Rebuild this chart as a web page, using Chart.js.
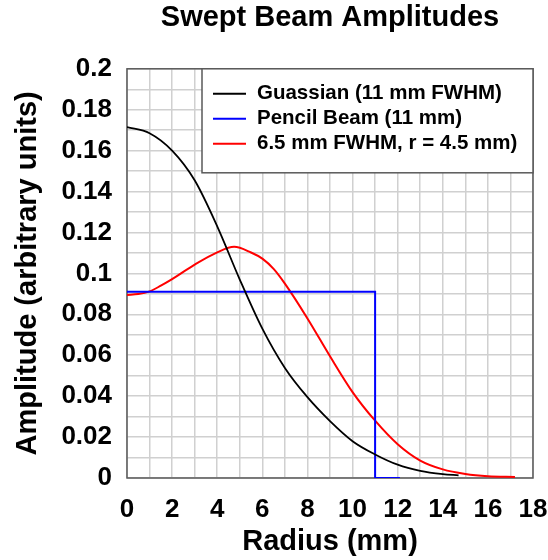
<!DOCTYPE html>
<html>
<head>
<meta charset="utf-8">
<title>Swept Beam Amplitudes</title>
<script src="https://cdn.jsdelivr.net/npm/chart.js@4.4.0/dist/chart.umd.min.js"></script>
<style>
    html, body { margin: 0; padding: 0; background: #ffffff; }
    #wrap { width: 548px; height: 560px; }
</style>
</head>
<body>
<div id="wrap"><canvas id="beam-chart" width="548" height="560"></canvas></div>
<script>
// ===== Swept Beam Amplitudes =====

const chartTitle = 'Swept Beam Amplitudes';
const xAxisTitle = 'Radius (mm)';
const yAxisTitle = 'Amplitude (arbitrary units)';

const seriesNames = ['Guassian (11 mm FWHM)', 'Pencil Beam (11 mm)', '6.5 mm FWHM, r = 4.5 mm)'];
const seriesColors = ['#000000', '#0000ff', '#ff0000'];

// Gaussiano 11 mm FWHM
const gaussRadius = [0, 1, 2, 3, 4, 5, 6, 7, 8, 9, 10, 11, 12, 13, 14, 14.7];
const gaussAmp = [0.1715, 0.1685, 0.1600, 0.1455, 0.1230, 0.0970, 0.0730, 0.0538, 0.0395, 0.0278, 0.0180, 0.0115, 0.0065, 0.0035, 0.0019, 0.0013];

// Pencil beam 11 mm
const pencilRadius = [0, 11, 11, 12.1];
const pencilAmp = [0.091, 0.091, 0, 0];

// 6.5 mm FWHM varrido em r = 4.5 mm
const sweptRadius = [0, 0.5, 1, 1.5, 2, 3, 4, 4.75, 5.5, 6, 6.5, 7, 8, 9, 10, 11, 12, 13, 14, 15, 16, 17.2];
const sweptAmp = [0.0895, 0.0899, 0.0912, 0.0940, 0.0972, 0.1043, 0.1103, 0.1130, 0.1102, 0.1072, 0.1022, 0.0950, 0.0780, 0.0595, 0.0420, 0.0280, 0.0165, 0.0085, 0.0042, 0.0020, 0.0009, 0.0005];

// rótulos dos eixos (só nos valores pares)
const xTickLabels = ['0', '2', '4', '6', '8', '10', '12', '14', '16', '18'];
const yTickLabels = ['0', '0.02', '0.04', '0.06', '0.08', '0.1', '0.12', '0.14', '0.16', '0.18', '0.2'];

const FONT = '"Liberation Sans", Arial, sans-serif';

function toPoints(xs, ys) {
    return xs.map((x, i) => ({ x: x, y: ys[i] }));
}

// moldura do gráfico (desenhada antes das linhas)
const frameBox = {
    id: 'frameBox',
    beforeDatasetsDraw(chart) {
        const { ctx, chartArea } = chart;
        ctx.save();
        ctx.strokeStyle = '#5a5a5a';
        ctx.lineWidth = 1.5;
        ctx.strokeRect(chartArea.left, chartArea.top, chartArea.right - chartArea.left, chartArea.bottom - chartArea.top);
        ctx.restore();
    }
};

// legenda dentro da área do gráfico, canto superior direito
const legendBox = {
    id: 'legendBox',
    afterDatasetsDraw(chart) {
        const { ctx, chartArea } = chart;
        const left = chartArea.left + 75;
        const top = chartArea.top;
        const right = chartArea.right;
        const bottom = chartArea.top + 104;

        ctx.save();
        ctx.fillStyle = '#ffffff';
        ctx.fillRect(left, top, right - left, bottom - top);
        ctx.strokeStyle = '#5a5a5a';
        ctx.lineWidth = 1.5;
        ctx.strokeRect(left, top, right - left, bottom - top);

        ctx.font = 'bold 20.5px ' + FONT;
        ctx.textBaseline = 'middle';
        ctx.textAlign = 'left';
        chart.data.datasets.forEach((ds, i) => {
            const y = top + 25 + i * 25;
            ctx.strokeStyle = ds.borderColor;
            ctx.lineWidth = 2;
            ctx.beginPath();
            ctx.moveTo(left + 11, y);
            ctx.lineTo(left + 44, y);
            ctx.stroke();
            ctx.fillStyle = '#000000';
            ctx.fillText(ds.label, left + 55, y);
        });
        ctx.restore();
    }
};

const ctx = document.getElementById('beam-chart').getContext('2d');

const beamChart = new Chart(ctx, {
    type: 'scatter',
    data: {
        datasets: [{
            label: seriesNames[0],
            data: toPoints(gaussRadius, gaussAmp),
            borderColor: seriesColors[0],
            borderWidth: 1.8,
            showLine: true,
            cubicInterpolationMode: 'monotone',
            pointRadius: 0
        }, {
            label: seriesNames[1],
            data: toPoints(pencilRadius, pencilAmp),
            borderColor: seriesColors[1],
            borderWidth: 2,
            showLine: true,
            tension: 0,
            pointRadius: 0
        }, {
            label: seriesNames[2],
            data: toPoints(sweptRadius, sweptAmp),
            borderColor: seriesColors[2],
            borderWidth: 2,
            showLine: true,
            cubicInterpolationMode: 'monotone',
            pointRadius: 0
        }]
    },
    options: {
        responsive: false,
        animation: false,
        devicePixelRatio: 1,
        layout: {
            padding: { left: 0, right: 15, top: 0, bottom: 0 }
        },
        plugins: {
            legend: { display: false },
            tooltip: { enabled: false },
            title: {
                display: true,
                text: chartTitle,
                fullSize: false,
                color: '#000000',
                font: { family: FONT, size: 29, weight: 'bold' },
                padding: { top: 1, bottom: 33 }
            }
        },
        scales: {
            x: {
                type: 'linear',
                min: 0,
                max: 18,
                afterFit: (scale) => {
                    scale.height = 82;
                    // o rótulo "18" não deve empurrar a área do gráfico
                    scale.paddingLeft = 0;
                    scale.paddingRight = 0;
                },
                border: { display: false },
                grid: { color: '#d0d0d0', lineWidth: 1.5, drawTicks: false },
                ticks: {
                    stepSize: 1,
                    autoSkip: false,
                    maxRotation: 0,
                    padding: 16,
                    color: '#000000',
                    font: { family: FONT, size: 26, weight: 'bold' },
                    callback: function(value) {
                        return value % 2 === 0 ? xTickLabels[value / 2] : '';
                    }
                },
                title: {
                    display: true,
                    text: xAxisTitle,
                    color: '#000000',
                    font: { family: FONT, size: 29, weight: 'bold' },
                    padding: { top: 0, bottom: 1 }
                }
            },
            y: {
                min: 0,
                max: 0.2,
                afterFit: (scale) => { scale.width = 127; },
                border: { display: false },
                grid: { color: '#d0d0d0', lineWidth: 1.5, drawTicks: false },
                ticks: {
                    stepSize: 0.01,
                    autoSkip: false,
                    padding: 15,
                    color: '#000000',
                    font: { family: FONT, size: 26, weight: 'bold' },
                    callback: function(value, index) {
                        return index % 2 === 0 ? yTickLabels[index / 2] : '';
                    }
                },
                title: {
                    display: true,
                    text: yAxisTitle,
                    color: '#000000',
                    font: { family: FONT, size: 29, weight: 'bold' },
                    padding: { top: 11, bottom: 0 }
                }
            }
        }
    },
    plugins: [frameBox, legendBox]
});
</script>
</body>
</html>
